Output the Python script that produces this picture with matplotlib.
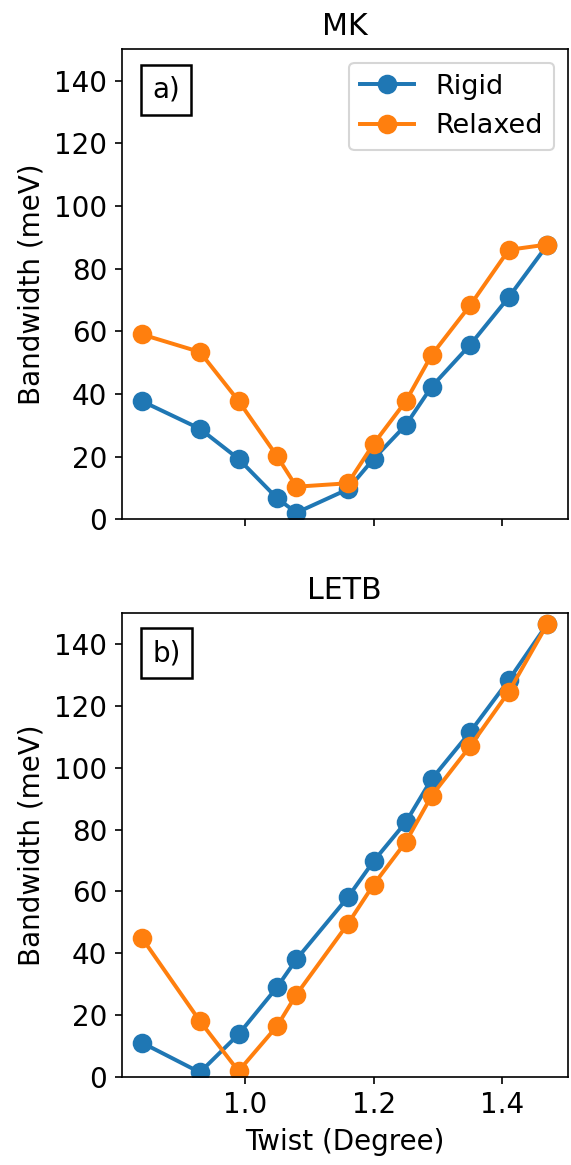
import matplotlib
matplotlib.use("Agg")
import matplotlib.pyplot as plt

twist = [0.84, 0.93, 0.99, 1.05, 1.08, 1.16, 1.20, 1.25, 1.29, 1.35, 1.41, 1.47]

mk_rigid = [37.7, 28.9, 19.3, 6.7, 2.1, 9.6, 19.3, 30.1, 42.3, 55.7, 70.9, 87.6]
mk_relaxed = [59.0, 53.4, 37.8, 20.1, 10.4, 11.5, 24.1, 37.7, 52.4, 68.3, 86.0, 87.7]

letb_rigid = [11.0, 1.4, 13.7, 29.0, 38.0, 58.1, 69.8, 82.4, 96.3, 111.6, 128.4, 146.6]
letb_relaxed = [44.9, 18.0, 1.8, 16.4, 26.6, 49.5, 62.2, 76.0, 90.9, 107.0, 124.6, 146.6]

titles = ["MK", "LETB"]
panel_labels = ["a)", "b)"]
series_labels = ["Rigid", "Relaxed"]

plt.rcParams["font.size"] = 13.3
W, H, DPI = 571, 1165, 150
fig = plt.figure(figsize=(W / DPI, H / DPI), dpi=DPI)

def px_axes(l, t, r, b):
    return fig.add_axes([l / W, 1 - b / H, (r - l) / W, (b - t) / H])

ax1 = px_axes(121.7, 49.3, 567.7, 519.3)
ax2 = px_axes(121.7, 613.3, 567.7, 1076.7)
ax2.sharex(ax1)

data = [(mk_rigid, mk_relaxed), (letb_rigid, letb_relaxed)]
for i, ax in enumerate([ax1, ax2]):
    rig, rel = data[i]
    ax.plot(twist, rig, "o-", color="#1f77b4", lw=1.9, ms=8.4, label=series_labels[0])
    ax.plot(twist, rel, "o-", color="#ff7f0e", lw=1.9, ms=8.4, label=series_labels[1])
    ax.set_ylim(0, 150)
    ax.set_yticks(range(0, 141, 20))
    ax.set_title(titles[i], fontsize=14.4, pad=7)
    ax.set_ylabel("Bandwidth (meV)")
    ax.text(0.069, 0.944, panel_labels[i], transform=ax.transAxes, va="top", ha="left",
            bbox=dict(boxstyle="square,pad=0.4", fc="white", ec="black", lw=1.2))

ax1.legend(loc="upper right", fontsize=13)
ax1.tick_params(labelbottom=False)
ax2.set_xticks([1.0, 1.2, 1.4])
ax2.set_xlabel("Twist (Degree)")

fig.savefig("out.png", dpi=DPI)
